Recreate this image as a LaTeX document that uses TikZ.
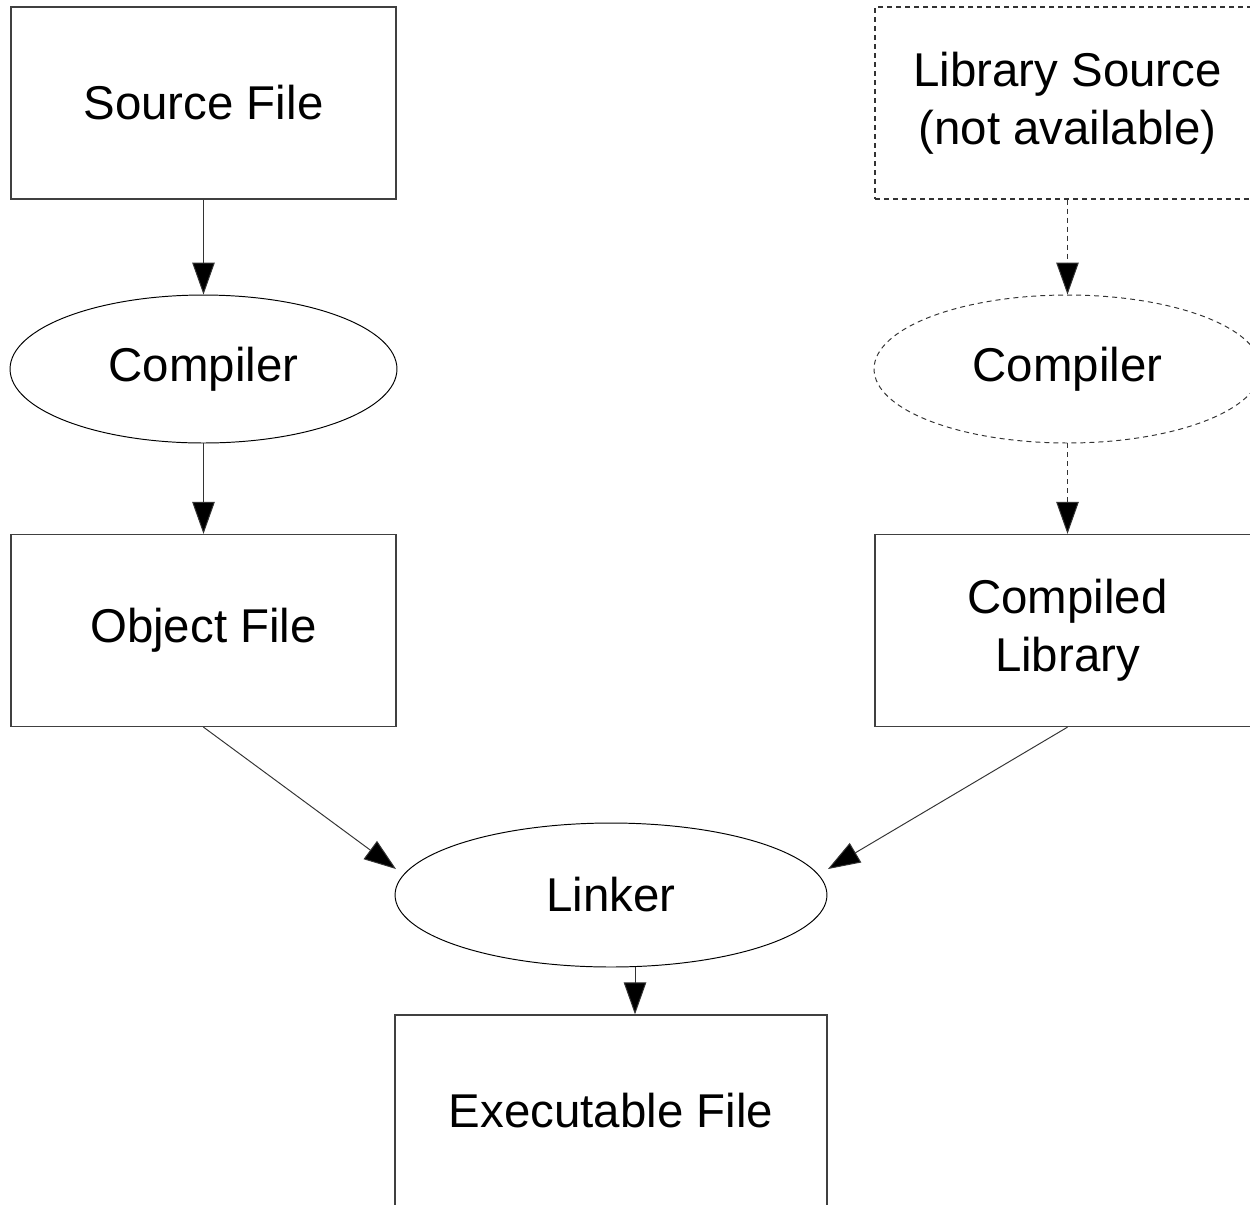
\documentclass[tikz,border=0pt]{standalone}
\usepackage{fontspec}
\setmainfont{Liberation Sans}
\usetikzlibrary{arrows.meta,shapes.geometric}
\begin{document}
\begin{tikzpicture}[x=0.02cm,y=-0.02cm,
  filebox/.style={draw=black!75,line width=0.75pt,rectangle,minimum width=7.7cm,minimum height=3.84cm,inner sep=0pt,align=center,font=\fontsize{27}{33}\selectfont},
  procell/.style={draw=black,line width=0.55pt,ellipse,inner sep=0pt,align=center,font=\fontsize{27}{33}\selectfont},
  unavail/.style={dash pattern=on 0.1cm off 0.08cm,draw=black!80},
  flow/.style={draw=black!80,line width=0.55pt,-{Triangle[length=0.64cm,width=0.45cm,fill=black]}}
]
\clip (0,0) rectangle (1250,1204);
\fill[white] (0,0) rectangle (1250,1204);
\node[filebox] (src) at (203.5,103) {Source File};
\node[procell,minimum width=7.74cm,minimum height=2.96cm] (comp1) at (203.5,369) {Compiler};
\node[filebox] (obj) at (203.5,630.5) {Object File};
\node[filebox,unavail] (libsrc) at (1067.5,103) {Library Source\\(not available)};
\node[procell,unavail,minimum width=7.74cm,minimum height=2.96cm] (comp2) at (1067.5,369) {Compiler};
\node[filebox] (clib) at (1067.5,630.5) {Compiled\\Library};
\node[procell,minimum width=8.64cm,minimum height=2.88cm] (link) at (611,895) {Linker};
\node[filebox,minimum width=8.64cm] (exe) at (611,1111) {Executable File};
\coordinate (lx) at (635,0);
\coordinate (tl) at (396,869);
\coordinate (tr) at (828,869);
\draw[flow] (src) -- (comp1);
\draw[flow] (comp1) -- (obj);
\draw[flow,unavail] (libsrc) -- (comp2);
\draw[flow,unavail] (comp2) -- (clib);
\draw[flow] (obj.south) -- (tl);
\draw[flow] (clib.south) -- (tr);
\draw[flow] (lx |- link.south) -- (lx |- exe.north);
\end{tikzpicture}
\end{document}
